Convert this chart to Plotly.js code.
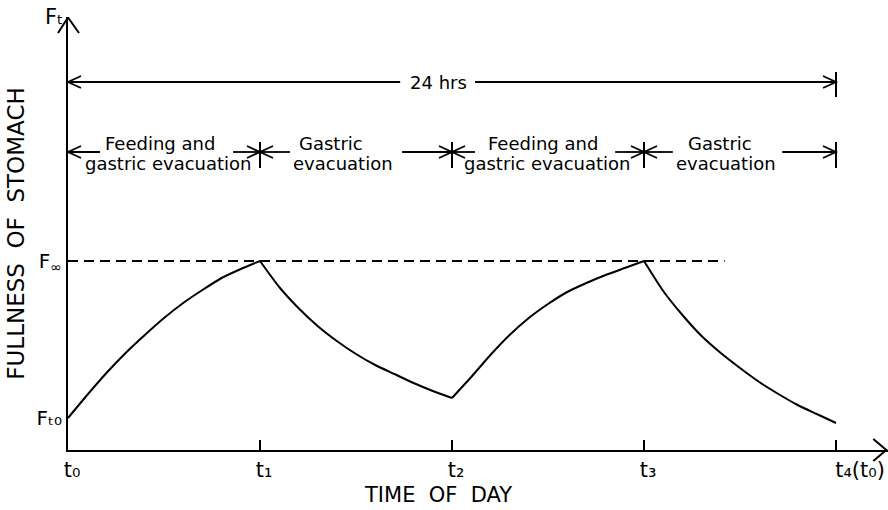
<!DOCTYPE html>
<html>
<head>
<meta charset="utf-8">
<script src="https://cdn.plot.ly/plotly-3.0.1.min.js"></script>
<style>html,body{margin:0;padding:0;background:#fff;}#chart{width:888px;height:510px;}</style>
</head>
<body>
<div id="chart"></div>
<script>
// ---- data (x in t-units, y = fullness in arbitrary units) ----
const tickPos = [0, 1, 2, 3, 4];
const tickLabels = ['t\u2080', 't\u2081', 't\u2082', 't\u2083',
  '\u00a0\u00a0\u00a0\u00a0\u00a0\u00a0t\u2084(t\u2080)'];
const yTickPos = [32, 189];
const yTickLabels = ['F\u209c\u2080', 'F<sub>\u221e</sub>'];

const feed1X = [0, 0.1, 0.2, 0.3, 0.4, 0.5, 0.6, 0.7, 0.8, 0.9, 1.0];
const feed1Y = [32, 55, 77, 97, 115, 132, 147, 160, 172, 181, 189];
const evac1X = [1.0, 1.1, 1.2, 1.3, 1.4, 1.5, 1.6, 1.7, 1.8, 1.9, 2.0];
const evac1Y = [189, 163, 142, 124, 109, 96, 85, 76, 67, 59, 52];
const feed2X = [2.0, 2.1, 2.2, 2.3, 2.4, 2.5, 2.6, 2.7, 2.8, 2.9, 3.0];
const feed2Y = [52, 73, 95, 115, 132, 146, 158, 167, 175, 182, 189];
const evac2X = [3.0, 3.1, 3.2, 3.3, 3.4, 3.5, 3.6, 3.7, 3.8, 3.9, 4.0];
const evac2Y = [189, 159, 135, 114, 97, 82, 68, 56, 45, 36, 27];

const fInf = 189;
const dashEndX = 3.42;

const xTitle = 'TIME\u00a0\u00a0OF\u00a0\u00a0DAY';
const yTitle = 'FULLNESS\u00a0\u00a0OF\u00a0\u00a0STOMACH';
const topLabel = 'F\u209c';
const periodLabel = '24 hrs';
const phaseLabels = [
  ['Feeding and', 'gastric evacuation'],
  ['Gastric', 'evacuation'],
  ['Feeding and', 'gastric evacuation'],
  ['Gastric', 'evacuation']
];

// ---- layout helpers ----
const FONT = 'DejaVu Sans, sans-serif';
const PXX = 192;           // px per x unit
const PLOTW = 820, PLOTH = 433;
const row1Y = 368, row2Y = 298;

const traces = [
  {x: feed1X, y: feed1Y}, {x: evac1X, y: evac1Y},
  {x: feed2X, y: feed2Y}, {x: evac2X, y: evac2Y}
].map(s => ({x: s.x, y: s.y, type: 'scatter', mode: 'lines',
  line: {color: '#000', width: 2, shape: 'spline', smoothing: 0.6},
  hoverinfo: 'skip', showlegend: false, cliponaxis: false}));

traces.push({x: [0, dashEndX], y: [fInf, fInf], type: 'scatter', mode: 'lines',
  line: {color: '#000', width: 2, dash: '10px,6px'}, hoverinfo: 'skip', showlegend: false});

const shapes = [];
const blk = w => ({color: '#000', width: w});
function hline(x0, x1, y) {
  shapes.push({type: 'line', xref: 'x', yref: 'y', x0: x0, x1: x1, y0: y, y1: y, line: blk(1.8)});
}
function vbar(x, y0, y1) {
  shapes.push({type: 'line', xref: 'x', yref: 'y', x0: x, x1: x, y0: y0, y1: y1, line: blk(2)});
}
// chevron arrow head pointing along x at (x, y); dir = -1 left, +1 right
function chevX(x, y, dir) {
  const bx = x - dir * 13 / PXX;
  shapes.push({type: 'path', xref: 'x', yref: 'y',
    path: `M${bx},${y + 6} L${x},${y} L${bx},${y - 6}`, line: blk(1.8)});
}
function arrow(xTail, xHead, y) {
  hline(xTail, xHead, y);
  chevX(xHead, y, xHead > xTail ? 1 : -1);
}

// 24 hrs row
arrow(1.73, 0, row1Y);
arrow(2.12, 4, row1Y);
vbar(4, 353, 378);
// phase row
arrow(0.167, 0, row2Y);
arrow(0.86, 1, row2Y);
arrow(1.156, 1, row2Y);
arrow(1.74, 2, row2Y);
arrow(2.12, 2, row2Y);
arrow(2.85, 3, row2Y);
arrow(3.15, 3, row2Y);
arrow(3.72, 4, row2Y);
vbar(1, 282, 308); vbar(2, 282, 308); vbar(3, 282, 308); vbar(4, 282, 308);
// axis arrow heads
shapes.push({type: 'path', xref: 'paper', yref: 'y',
  path: `M${-10 / PLOTW},${PLOTH - 16} L0,${PLOTH - 0.5} L${11 / PLOTW},${PLOTH - 16}`, line: blk(2)});
const xTip = 4.262;
shapes.push({type: 'path', xref: 'x', yref: 'paper',
  path: `M${xTip - 13 / PXX},${11 / PLOTH} L${xTip},0 L${xTip - 13 / PXX},${-11 / PLOTH}`, line: blk(2)});

function label(x, y, text, size) {
  return {x: x, y: y, xref: 'x', yref: 'y', text: text, showarrow: false,
    xanchor: 'center', yanchor: 'middle', font: {family: FONT, size: size, color: '#000'}};
}
const annotations = [
  label(1.932, row1Y, periodLabel, 18),
  label(0.479, 307, phaseLabels[0][0], 18), label(0.521, 287, phaseLabels[0][1], 18),
  label(1.37, 307, phaseLabels[1][0], 18), label(1.43, 287, phaseLabels[1][1], 18),
  label(2.474, 307, phaseLabels[2][0], 18), label(2.495, 287, phaseLabels[2][1], 18),
  label(3.396, 307, phaseLabels[3][0], 18), label(3.427, 287, phaseLabels[3][1], 18),
  {x: -0.004, y: 1.0, xref: 'paper', yref: 'paper', text: topLabel, showarrow: false,
    xanchor: 'right', yanchor: 'middle', font: {family: FONT, size: 21, color: '#000'}},
  {x: (438 - 68) / PLOTW, y: -45 / PLOTH, xref: 'paper', yref: 'paper', text: xTitle,
    showarrow: false, xanchor: 'center', yanchor: 'middle',
    font: {family: FONT, size: 21, color: '#000'}}
];

const layout = {
  width: 888, height: 510,
  margin: {l: 68, r: 0, t: 17, b: 60},
  paper_bgcolor: '#fff', plot_bgcolor: '#fff',
  showlegend: false,
  font: {family: FONT, color: '#000'},
  xaxis: {
    range: [0, PLOTW / PXX], showgrid: false, zeroline: false,
    showline: true, linecolor: '#000', linewidth: 2,
    tickmode: 'array', tickvals: tickPos, ticktext: tickLabels,
    ticks: 'inside', ticklen: 10, tickwidth: 2, tickcolor: '#000',
    ticklabelshift: 4,
    tickfont: {family: FONT, size: 21, color: '#000'},
    fixedrange: true
  },
  yaxis: {
    range: [0, PLOTH], showgrid: false, zeroline: false,
    showline: true, linecolor: '#000', linewidth: 2,
    tickmode: 'array', tickvals: yTickPos, ticktext: yTickLabels,
    ticks: '', tickfont: {family: FONT, size: 20, color: '#000'},
    title: {text: yTitle, font: {family: FONT, size: 23, color: '#000'}, standoff: 6},
    fixedrange: true
  },
  annotations: annotations,
  shapes: shapes
};

Plotly.newPlot('chart', traces, layout, {displayModeBar: false, staticPlot: true});
</script>
</body>
</html>
